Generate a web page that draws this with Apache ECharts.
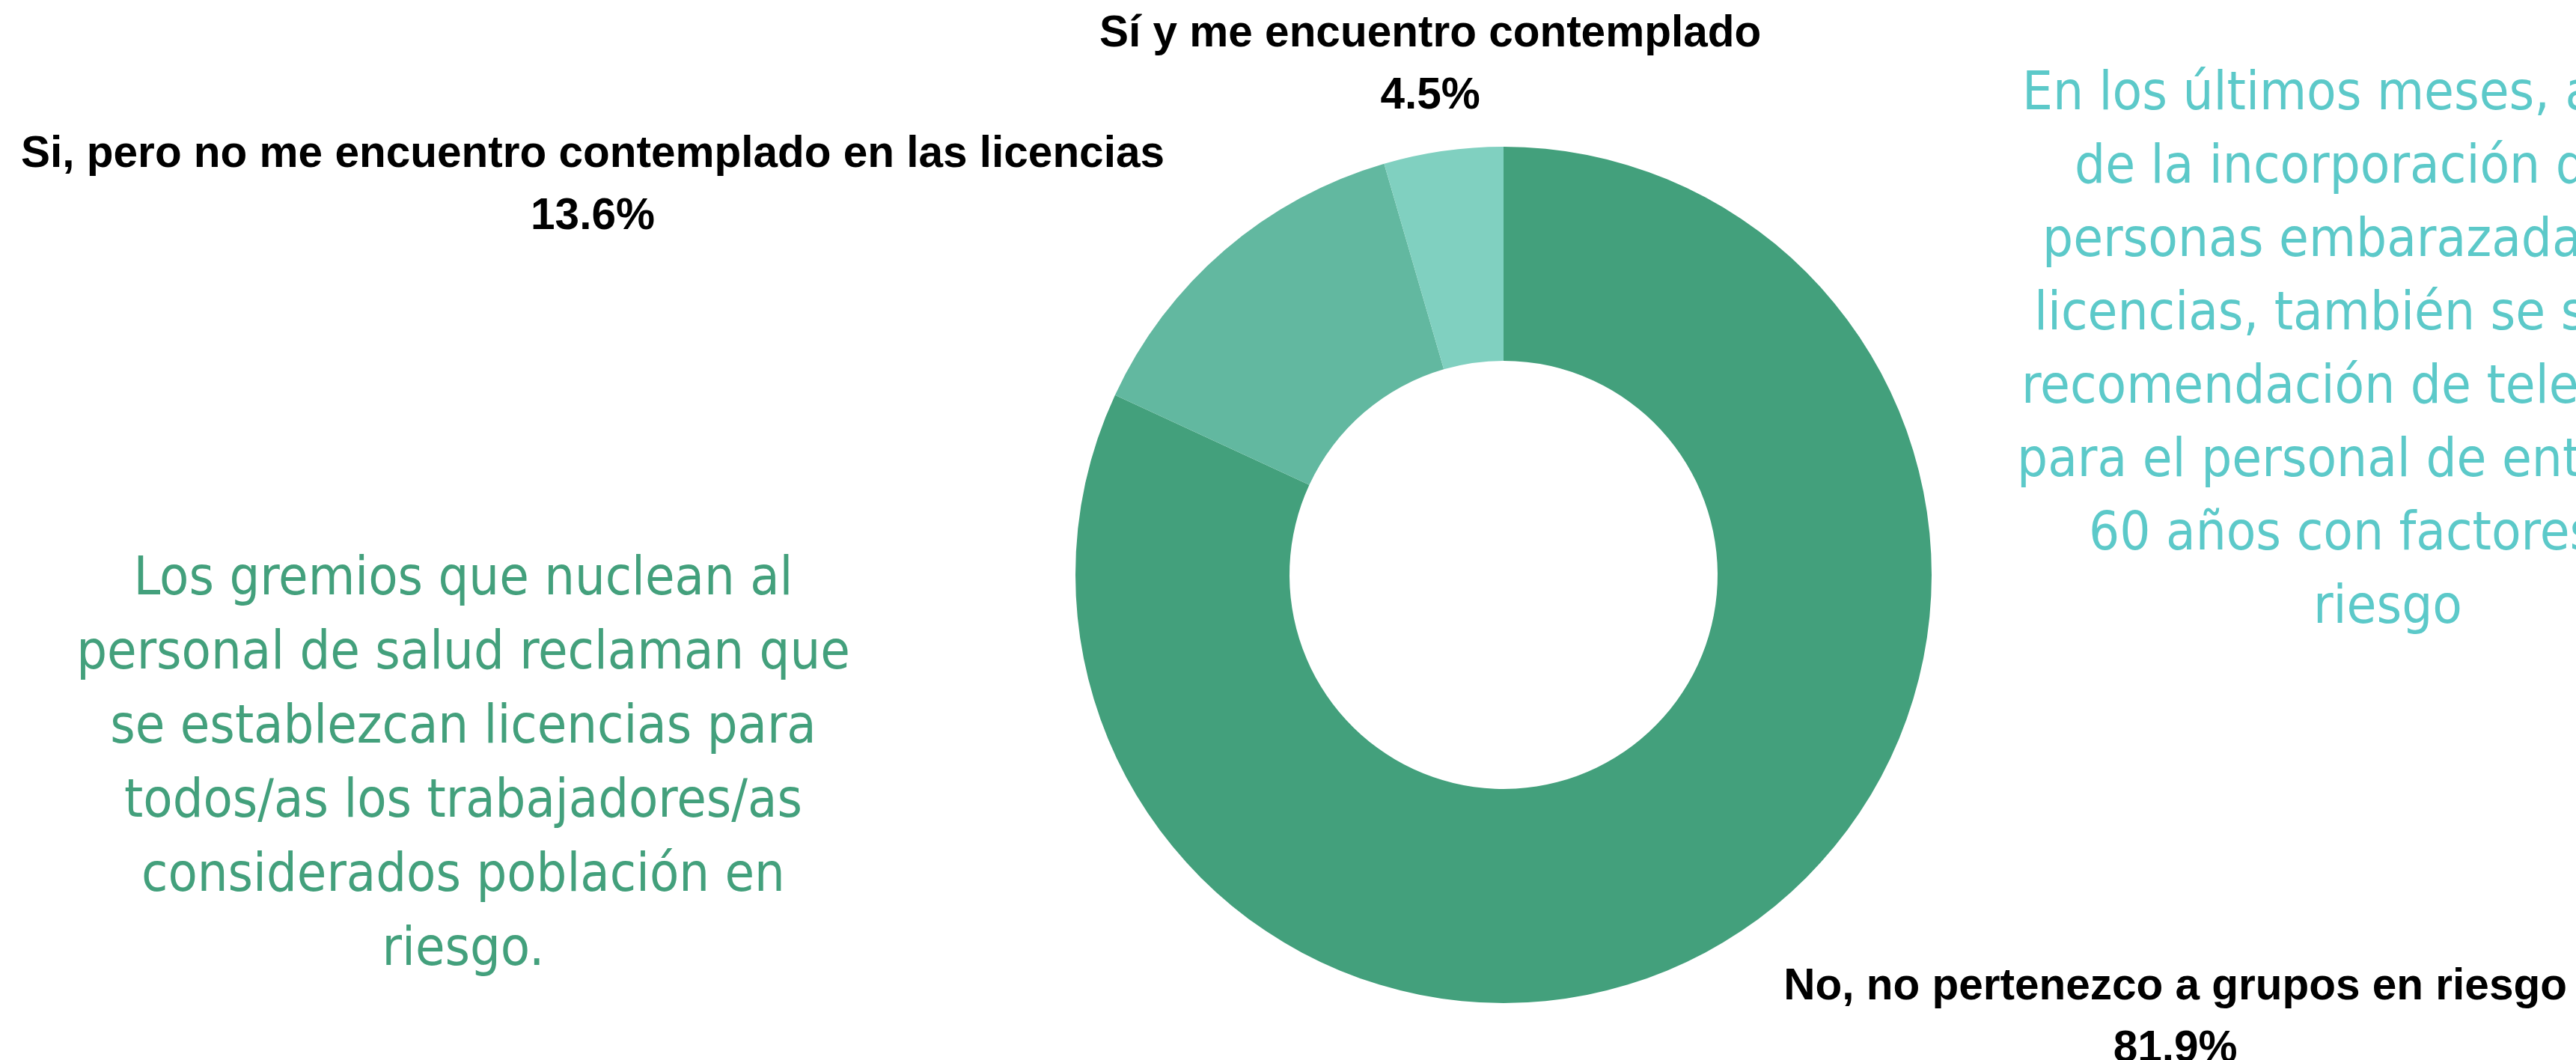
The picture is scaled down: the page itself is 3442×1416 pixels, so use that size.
<!DOCTYPE html>
<html>
<head>
<meta charset="utf-8">
<title>Grupos de riesgo</title>
<script src="https://cdn.jsdelivr.net/npm/echarts@6/dist/echarts.min.js"></script>
<style>
html, body { margin: 0; padding: 0; background: #fff; }
#chart { width: 3442px; height: 1416px; }
</style>
</head>
<body>
<div id="chart"></div>
<script>
const categories = [
  'No, no pertenezco a grupos en riesgo',
  'Si, pero no me encuentro contemplado en las licencias',
  'Sí y me encuentro contemplado'
]
const values = [81.9, 13.6, 4.5]
const colors = ['#43a07c', '#62b8a0', '#80d0c0']

const leftNote = [
  'Los gremios que nuclean al',
  'personal de salud reclaman que',
  'se establezcan licencias para',
  'todos/as los trabajadores/as',
  'considerados población en',
  'riesgo.'
]
const rightNote = [
  'En los últimos meses, a partir',
  'de la incorporación de las',
  'personas embarazadas a las',
  'licencias, también se sumó la',
  'recomendación de teletrabajo',
  'para el personal de entre 50 y',
  '60 años con factores de',
  'riesgo'
]

const noteFont = '"DejaVu Sans Condensed", "DejaVu Sans", sans-serif'
const chart = echarts.init(document.getElementById('chart'))

// el bloque de la derecha queda cortado por el borde, cada línea va alineada a la izquierda
const rightX = [2702, 2772, 2729, 2718, 2701, 2695, 2791, 3091]
const rightLines = rightNote.map((t, i) => ({
  type: 'text',
  x: rightX[i],
  y: 127 + i * 98,
  style: {
    text: t,
    fontFamily: noteFont,
    fontSize: 72,
    fill: '#5cc9c9',
    align: 'left',
    verticalAlign: 'middle'
  }
}))

const labelText = { fontFamily: 'Liberation Sans', fontWeight: 'bold', fontSize: 58.5, lineHeight: 83, color: '#000', align: 'center' }

const option = {
  backgroundColor: '#fff',
  animation: false,
  color: colors,
  graphic: [
    {
      type: 'text',
      x: 619,
      y: 1023,
      style: {
        text: leftNote.join('\n'),
        fontFamily: noteFont,
        fontSize: 71.5,
        lineHeight: 99,
        fill: '#43a07c',
        align: 'center',
        verticalAlign: 'middle'
      }
    },
    ...rightLines
  ],
  series: [
    {
      type: 'pie',
      center: [2009, 768],
      radius: [286, 572],
      startAngle: 90,
      clockwise: true,
      avoidLabelOverlap: false,
      itemStyle: { borderWidth: 0 },
      label: {
        show: true,
        position: 'outside',
        distanceToLabelLine: 0,
        fontFamily: 'Liberation Sans',
        fontWeight: 'bold',
        fontSize: 58.5,
        lineHeight: 83,
        color: '#000',
        formatter: p => '{n|' + p.name + '}\n{p|' + p.value.toFixed(1) + '%}',
        rich: { n: labelText, p: labelText }
      },
      labelLine: { show: false, length: 123, length2: 0 },
      labelLayout: params => {
        const lay = { dy: 7 }
        if (params.dataIndex === 2) {
          lay.align = 'center'
        }
        return lay
      },
      emphasis: { disabled: true },
      data: categories.map((name, i) => ({ name: name, value: values[i] }))
    }
  ]
}

chart.setOption(option)
</script>
</body>
</html>
